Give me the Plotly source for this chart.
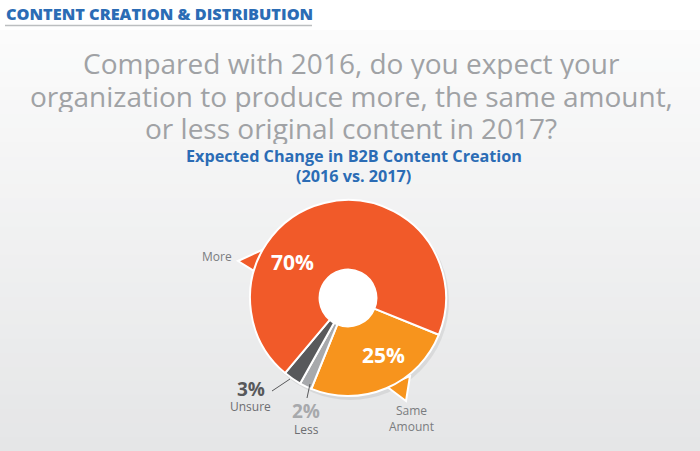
import plotly.graph_objects as go

# ---- data ----
categories = ["Same Amount", "Less", "Unsure", "More"]
values = [25, 2, 3, 70]
slice_colors = ["#F7941D", "#A7A9AC", "#58595B", "#F15A29"]

header = "CONTENT CREATION & DISTRIBUTION"
title_lines = ["Compared with 2016, do you expect your",
               "organization to produce more, the same amount,",
               "or less original content in 2017?"]
subtitle_lines = ["Expected Change in B2B Content Creation", "(2016 vs. 2017)"]

W, H = 700, 451
def px(x, y):
    return x / W, 1 - y / H

cx, cy, R = 348, 298, 98
HOLE = 0.29

fig = go.Figure()
fig.add_trace(go.Pie(
    labels=categories, values=values, sort=False, direction="clockwise",
    rotation=112, hole=HOLE,
    marker=dict(colors=slice_colors, line=dict(color="white", width=2)),
    textinfo="none", hoverinfo="label+percent", showlegend=False,
    domain=dict(x=[(cx - R) / W, (cx + R) / W], y=[1 - (cy + R) / H, 1 - (cy - R) / H]),
))

shapes = []
# background gradient bands
top_c = (251, 251, 251)
bot_c = (229, 230, 231)
n = 30
y0 = 30
for i in range(n):
    t = i / (n - 1)
    c = tuple(int(round(top_c[k] + (bot_c[k] - top_c[k]) * t)) for k in range(3))
    ya = y0 + (H - y0) * i / n
    yb = y0 + (H - y0) * (i + 1) / n + 1
    shapes.append(dict(type="rect", xref="paper", yref="paper", x0=0, x1=1,
                       y0=1 - yb / H, y1=1 - ya / H, line=dict(width=0),
                       fillcolor="rgb(%d,%d,%d)" % c, layer="below"))
# header underline
shapes.append(dict(type="line", xref="paper", yref="paper",
                   x0=5 / W, x1=312 / W, y0=1 - 25.5 / H, y1=1 - 25.5 / H,
                   line=dict(color="#BCBEC0", width=1.5), layer="below"))
# faint shadow under pie (bottom-right)
shapes.append(dict(type="circle", xref="paper", yref="paper",
                   x0=(cx - R + 2) / W, x1=(cx + R + 3) / W,
                   y0=1 - (cy + R + 4) / H, y1=1 - (cy - R + 2) / H,
                   line=dict(width=0), fillcolor="rgba(0,0,0,0.07)", layer="below"))
# white centre
hr = HOLE * R + 1
shapes.append(dict(type="circle", xref="paper", yref="paper",
                   x0=(cx - hr) / W, x1=(cx + hr) / W,
                   y0=1 - (cy + hr) / H, y1=1 - (cy - hr) / H,
                   line=dict(width=0), fillcolor="white", layer="below"))

def tri(pts, color):
    p = " ".join(("M" if i == 0 else "L") + " %f,%f" % px(*pt) for i, pt in enumerate(pts)) + " Z"
    return dict(type="path", xref="paper", yref="paper", path=p,
                fillcolor=color, line=dict(color="white", width=2), layer="below")

# speech-bubble tails
shapes.append(tri([(262, 250), (238, 261), (262, 276)], "#F15A29"))
shapes.append(tri([(386, 386), (406, 401), (410, 376)], "#F7941D"))
# callout lines
shapes.append(dict(type="line", xref="paper", yref="paper",
                   x0=272 / W, y0=1 - 391 / H, x1=290 / W, y1=1 - 379 / H,
                   line=dict(color="#58595B", width=1)))
shapes.append(dict(type="line", xref="paper", yref="paper",
                   x0=307 / W, y0=1 - 398 / H, x1=310 / W, y1=1 - 384 / H,
                   line=dict(color="#58595B", width=1)))

ann = []
def text(x, y, s, size, color, family="Open Sans", weight="normal", height=None):
    xx, yy = px(x, y)
    a = dict(x=xx, y=yy, xref="paper", yref="paper", text=s, showarrow=False,
             xanchor="center", yanchor="middle",
             font=dict(size=size, color=color, family=family, weight=weight))
    if height:
        a["height"] = height
    ann.append(a)

# header
ann.append(dict(x=4 / W, y=1 - 14 / H, xref="paper", yref="paper", text=header,
                showarrow=False, xanchor="left", yanchor="middle",
                font=dict(size=16.3, color="#2B6CB5", family="Open Sans", weight=800)))
# title
for i, line in enumerate(title_lines):
    text(351, 63 + 32.5 * i, line, 28, "#A0A2A5", family="Open Sans", height=32)
# subtitle
for i, line in enumerate(subtitle_lines):
    text(354, 156 + 20 * i, line, 16.2, "#2B6CB5", family="Open Sans", weight="bold", height=20)

# slice labels
pct = {c: "%d%%" % v for c, v in zip(categories, values)}
text(292, 262, pct["More"], 21, "white", weight="bold")
text(383, 355, pct["Same Amount"], 21, "white", weight="bold")
text(217, 256, categories[3], 12, "#7A7C7F")
text(411, 418, "Same<br>Amount", 12, "#7A7C7F")
text(251, 389, pct["Unsure"], 19, "#58595B", weight="bold", height=20)
text(250, 406, categories[2], 12, "#6D6E71", height=14)
text(306, 411, pct["Less"], 19, "#A7A9AC", weight="bold", height=20)
text(306, 429, categories[1], 12, "#6D6E71", height=14)

fig.update_layout(width=W, height=H, margin=dict(l=0, r=0, t=0, b=0),
                  paper_bgcolor="white", plot_bgcolor="white",
                  shapes=shapes, annotations=ann)
fig.write_html("out.html")
